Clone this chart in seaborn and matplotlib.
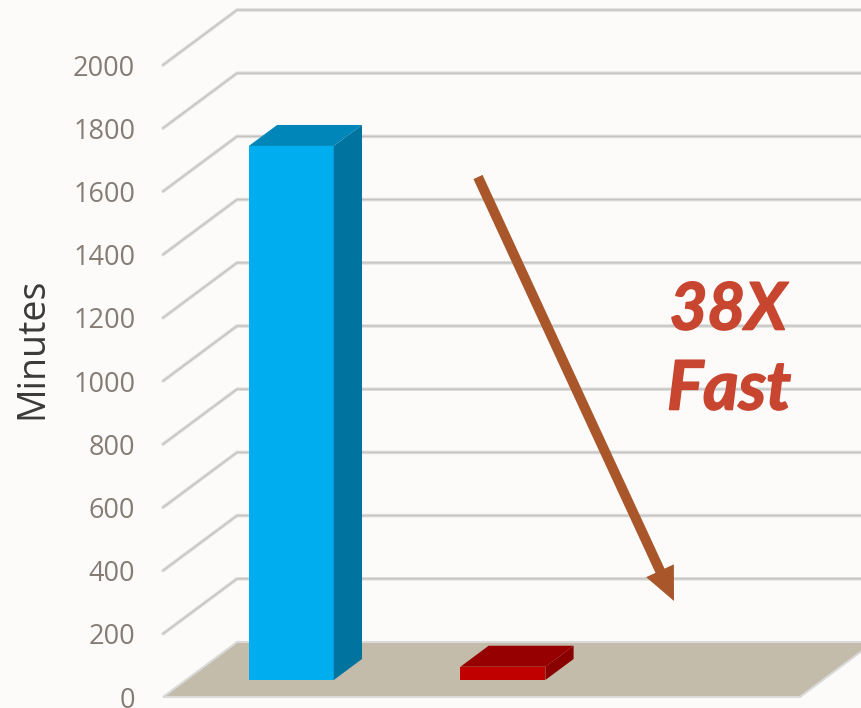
import matplotlib
matplotlib.use("Agg")
import matplotlib.pyplot as plt
import matplotlib.patheffects as pe
import seaborn as sns
from matplotlib.patches import Polygon

# Data
slots = ["Run A", "Run B", "(empty)"]
measured = ["Run A", "Run B"]
minutes = [1690, 42]
ticks = [0, 200, 400, 600, 800, 1000, 1200, 1400, 1600, 1800, 2000]
front_colors = ["#00AEEF", "#C00000"]
side_colors = ["#00739F", "#8A0000"]
top_colors = ["#0086B8", "#960000"]

BG = "#FCFBF9"
sns.set_theme(style="white")
plt.rcParams["font.family"] = ["Open Sans", "DejaVu Sans"]

fig = plt.figure(figsize=(8.61, 7.08), dpi=100, facecolor=BG)
W, H = 861, 708
ax = fig.add_axes([163 / W, (H - 697) / H, 637 / W, 632 / H], facecolor="none")

sns.barplot(x=measured, y=minutes, order=slots, hue=measured, palette=front_colors,
            saturation=1, width=0.4, legend=False, ax=ax, zorder=5)
ax.set_xlim(-0.5, 2.5)
ax.set_ylim(0, 2000)
bars = list(ax.patches)

# oblique projection expressed in data units per unit of depth
DX = 74 / (637 / 3)
DY = 55 / (632 / 2000)


def proj(x, v, d):
    return (x + d * DX, v + d * DY)


# floor and back wall rules
ax.add_patch(Polygon([proj(-0.5, 0, 0), proj(-0.5, 0, 1), proj(2.5, 0, 1), proj(2.5, 0, 0)],
                     closed=True, facecolor="#C4BCAB", edgecolor="#DADADA", lw=1.5,
                     clip_on=False, zorder=1))
for t in ticks[1:]:
    pts = [proj(-0.5, t, 0), proj(-0.5, t, 1), proj(2.5, t, 1)]
    ax.plot(*zip(*pts), color="#DEDEDC", lw=2.6, clip_on=False, zorder=2,
            solid_capstyle="round")
    ax.plot(*zip(*pts), color="#C4C4C2", lw=1.0, clip_on=False, zorder=2.1)

# bars: pushed back into the scene, with side and top faces
D0 = 17 / 55
DB = 21 / 55
NUDGE = 0.0035
for i, bar in enumerate(bars):
    x0, w, h = bar.get_x(), bar.get_width(), bar.get_height()
    bar.set_xy(proj(x0 - NUDGE * (i + 1), 0, D0))
    bar.set_clip_on(False)
    bar.set_linewidth(0)
    bx, by = bar.get_xy()
    side = [(bx + w, by), (bx + w, by + h), (bx + w + DB * DX, by + h + DB * DY), (bx + w + DB * DX, by + DB * DY)]
    top = [(bx, by + h), (bx + w, by + h), (bx + w + DB * DX, by + h + DB * DY), (bx + DB * DX, by + h + DB * DY)]
    ax.add_patch(Polygon(side, closed=True, facecolor=side_colors[i], lw=0, clip_on=False, zorder=5))
    ax.add_patch(Polygon(top, closed=True, facecolor=top_colors[i], lw=0, clip_on=False, zorder=5))

# axes furniture
sns.despine(ax=ax, left=True, bottom=True)
ax.set_xticks([])
ax.set_xlabel("")
ax.set_yticks(ticks)
ax.tick_params(axis="y", length=0, pad=20, labelsize=19.5, labelcolor="#857D75")
ax.grid(False)

fig.text(32 / W, 1 - 348 / H, "Minutes", rotation=90, ha="center", va="center",
         fontsize=27, color="#3A3A3A")

stroke = [pe.withStroke(linewidth=1.2, foreground="#C8452F")]
fig.text(728 / W, 1 - 310.5 / H, "38X", ha="center", va="center", fontsize=47,
         family=["Lato"], fontweight="bold", fontstyle="italic", color="#C8452F", path_effects=stroke)
fig.text(729 / W, 1 - 390 / H, "Fast", ha="center", va="center", fontsize=49,
         family=["Lato"], fontweight="bold", fontstyle="italic", color="#C8452F", path_effects=stroke)

ax.annotate("", xy=(674 / W, 1 - 601 / H), xytext=(478 / W, 1 - 177 / H),
            xycoords="figure fraction", textcoords="figure fraction",
            arrowprops=dict(facecolor="#A9562B", edgecolor="none", width=7.2,
                            headwidth=22, headlength=24, shrink=0),
            annotation_clip=False, zorder=6)

fig.savefig("out.png", dpi=100, facecolor=BG)
